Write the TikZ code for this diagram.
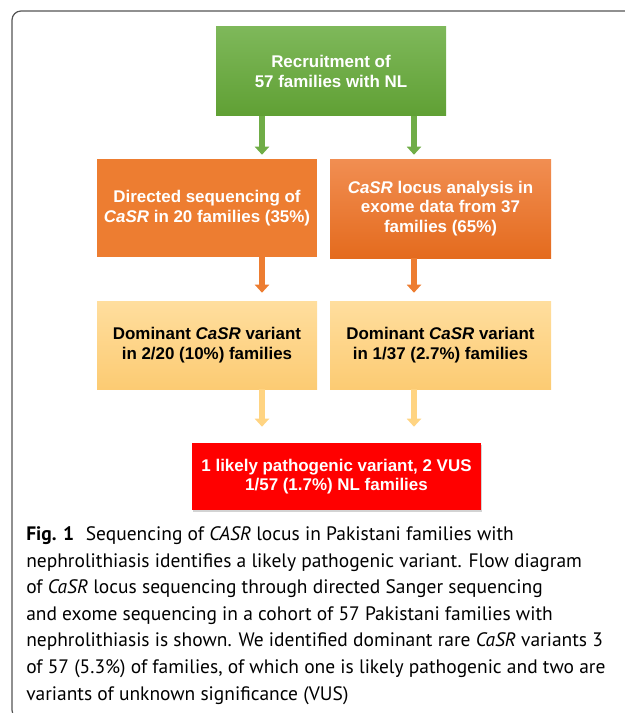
\documentclass[tikz,border=0pt]{standalone}
\usepackage{fontspec}
\setmainfont{Liberation Sans}
\newfontfamily\capfont{PT Sans}
\usetikzlibrary{arrows.meta,shadows}
\definecolor{grtop}{RGB}{126,184,90}
\definecolor{grbot}{RGB}{96,160,52}
\definecolor{grarrow}{RGB}{112,173,71}
\definecolor{orflat}{RGB}{237,125,49}
\definecolor{ortop}{RGB}{241,142,82}
\definecolor{orbot}{RGB}{228,107,30}
\definecolor{lttop}{RGB}{255,222,158}
\definecolor{ltbot}{RGB}{252,203,115}
\definecolor{ltarrow}{RGB}{255,212,130}
\definecolor{framegray}{RGB}{85,85,85}
\begin{document}
\begin{tikzpicture}[x=0.75pt,y=-0.75pt,
  box/.style={inner sep=0pt,align=center,font=\fontsize{12.7}{14.6}\selectfont\bfseries},
  flow/.style={line width=4.9pt,-{Triangle[width=10.5pt,length=6pt]}}]
\useasboundingbox (0,0) rectangle (624,713);
% frame round the figure
\draw[line width=0.9pt,framegray,rounded corners=6.75pt] (650,11) -- (12,11) -- (12,719) -- (40,719);
% boxes
\node[box,top color=grtop,bottom color=grbot,text=white,minimum width=172.5pt,minimum height=66.75pt] (recruit) at (331,71.5) {Recruitment of\\57 families with NL};
\node[box,fill=orflat,text=white,minimum width=165pt,minimum height=73.5pt] (directed) at (207,208) {Directed sequencing of\\\textit{CaSR} in 20 families (35\%)};
\node[box,top color=ortop,bottom color=orbot,text=white,minimum width=165.75pt,minimum height=74.25pt] (exome) at (440.5,208.5) {\textit{CaSR} locus analysis in\\exome data from 37\\families (65\%)};
\node[box,top color=lttop,bottom color=ltbot,minimum width=165pt,minimum height=66pt] (domleft) at (207,345) {Dominant \textit{CaSR} variant\\in 2/20 (10\%) families};
\node[box,top color=lttop,bottom color=ltbot,minimum width=165.75pt,minimum height=66pt] (domright) at (440.5,345) {Dominant \textit{CaSR} variant\\in 1/37 (2.7\%) families};
\node[box,fill=red,text=white,minimum width=216.75pt,minimum height=50.25pt,drop shadow={shadow xshift=1pt,shadow yshift=-1.2pt,opacity=0.35}] (result) at (336.5,476.5) {1 likely pathogenic variant, 2 VUS\\1/57 (1.7\%) NL families};
% arrows
\coordinate (lcol) at (262,0);
\coordinate (rcol) at (414,0);
\draw[flow,grarrow,shorten >=3pt] (recruit.south -| lcol) -- (directed.north -| lcol);
\draw[flow,grarrow,shorten >=3pt] (recruit.south -| rcol) -- (exome.north -| rcol);
\draw[flow,orflat,shorten >=6pt] (directed.south -| lcol) -- (domleft.north -| lcol);
\draw[flow,orflat,shorten >=6pt] (exome.south -| rcol) -- (domright.north -| rcol);
\draw[flow,ltarrow,shorten >=12pt] (domleft.south -| lcol) -- (result.north -| lcol);
\draw[flow,ltarrow,shorten >=12pt] (domright.south -| rcol) -- (result.north -| rcol);
% caption
\node[anchor=base west,align=left,inner sep=0pt,font=\capfont\fontsize{14.6}{19.9}\selectfont] (caption) at (26,700) {\textbf{Fig. 1}\hspace{0.6em}Sequencing of \textit{CASR} locus in Pakistani families with\\
nephrolithiasis identifies a likely pathogenic variant. Flow diagram\\
of \textit{CaSR} locus sequencing through directed Sanger sequencing\\
and exome sequencing in a cohort of 57 Pakistani families with\\
nephrolithiasis is shown. We identified dominant rare \textit{CaSR} variants 3\\
of 57 (5.3\%) of families, of which one is likely pathogenic and two are\\
variants of unknown significance (VUS)};
\end{tikzpicture}
\end{document}
